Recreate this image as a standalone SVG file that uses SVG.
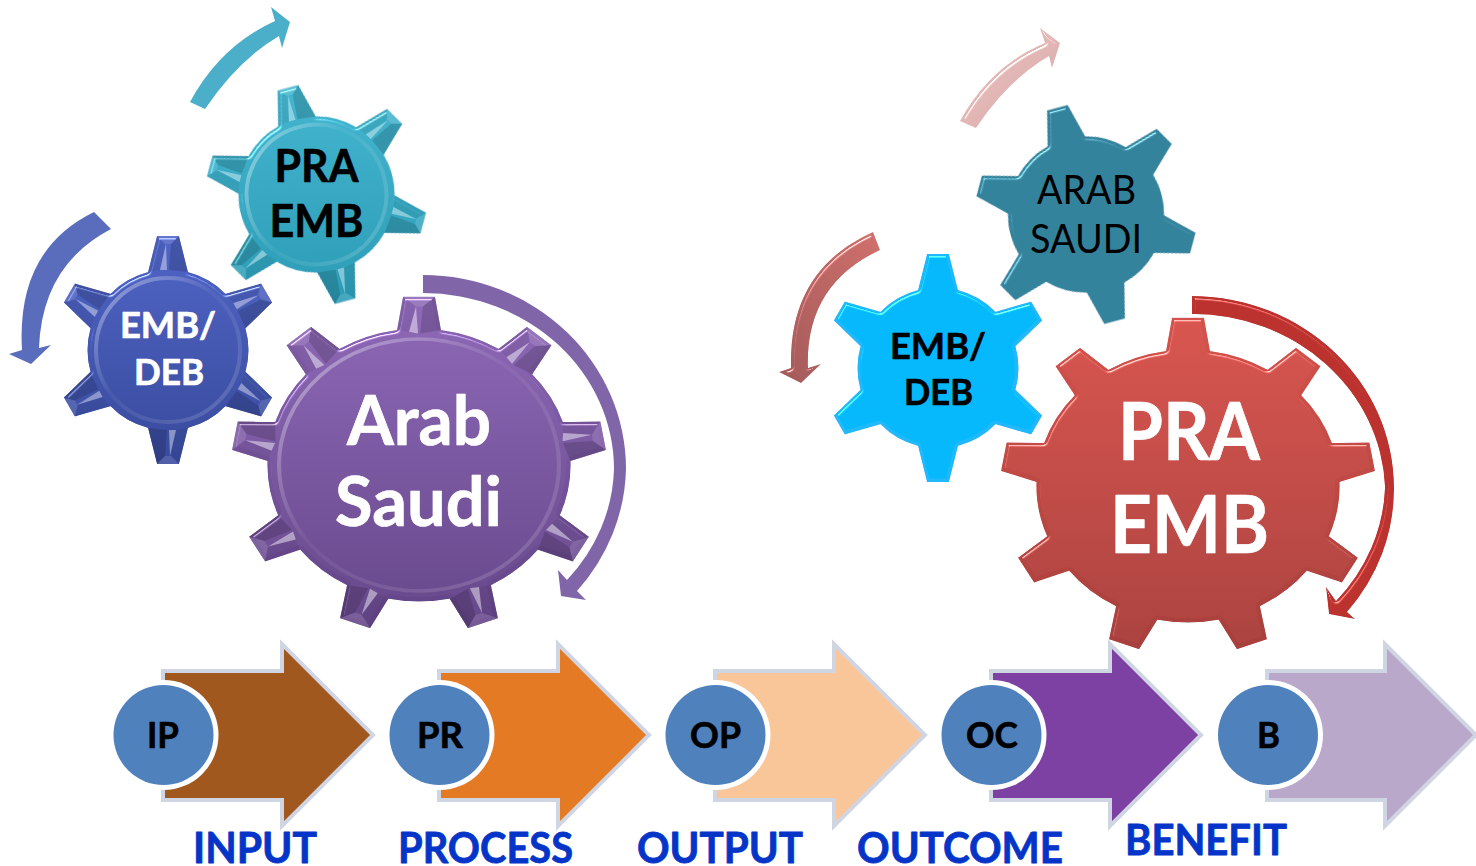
<svg xmlns="http://www.w3.org/2000/svg" width="1476" height="866" viewBox="0 0 1476 866">
<style>
text{font-family:Lato,"Open Sans","Liberation Sans",sans-serif;font-weight:700;text-anchor:start;stroke-linejoin:round}
.w{fill:#fff;stroke:#fff;stroke-width:.7}.k{fill:#000;stroke:#000;stroke-width:.6}.r{font-weight:400;stroke-width:0}
.lab{fill:#0535C8;stroke:#0535C8;stroke-width:.8;font-size:42px}
.cap{fill:#000;stroke:#000;stroke-width:.6;font-size:36px}
.ar{stroke:#D0D5E4;stroke-width:4;stroke-linejoin:miter}
.ring{fill:none;stroke-width:4}
.lt{fill:#fff}.dk{fill:#000}
</style>
<defs>
<path id="g6" d="M-20,-78L-11,-114L11,-114L20,-78A80,80 0 0 1 57.55,-56.32L93.23,-66.53L104.23,-47.47L77.55,-21.68A80,80 0 0 1 77.55,21.68L104.23,47.47L93.23,66.53L57.55,56.32A80,80 0 0 1 20,78L11,114L-11,114L-20,78A80,80 0 0 1 -57.55,56.32L-93.23,66.53L-104.23,47.47L-77.55,21.68A80,80 0 0 1 -77.55,-21.68L-104.23,-47.47L-93.23,-66.53L-57.55,-56.32A80,80 0 0 1 -20,-78Z"/>
<path id="g9" d="M-22,-150L-16,-187L16,-187L22,-150A151.6,151.6 0 0 1 79.6,-129.05L107.98,-153.53L132.5,-132.95L113.3,-100.75A151.6,151.6 0 0 1 143.92,-47.77L181.42,-48.3L186.98,-16.78L151.58,-4.43A151.6,151.6 0 0 1 140.9,55.95L169.94,79.64L153.94,107.36L118.9,94.05A151.6,151.6 0 0 1 71.98,133.48L78.99,170.31L48.91,181.25L30.62,148.52A151.6,151.6 0 0 1 -30.62,148.52L-48.91,181.25L-78.99,170.31L-71.98,133.48A151.6,151.6 0 0 1 -118.9,94.05L-153.94,107.36L-169.94,79.64L-140.9,55.95A151.6,151.6 0 0 1 -151.58,-4.43L-186.98,-16.78L-181.42,-48.3L-143.92,-47.77A151.6,151.6 0 0 1 -113.3,-100.75L-132.5,-132.95L-107.98,-153.53L-79.6,-129.05A151.6,151.6 0 0 1 -22,-150Z"/>
<g id="f6"><polygon class="lt" opacity=".4" points="-8,-80 -2,-106 -1,-80"/><polygon class="dk" opacity=".15" points="1,-80 3,-106 11,-114 20,-78"/><polygon class="lt" opacity=".12" points="-11,-114 11,-114 3,-106 -3,-106"/><polygon class="dk" opacity=".06" points="-20,-78 -11,-114 -3,-106 -8,-80"/></g>
<g id="f9"><polygon class="lt" opacity=".45" points="-10,-148 -3,-176 -1,-146"/><polygon class="dk" opacity=".15" points="1,-146 4,-176 16,-187 22,-150"/><polygon class="lt" opacity=".12" points="-16,-187 16,-187 4,-176 -3,-176"/><polygon class="dk" opacity=".06" points="-22,-150 -16,-187 -3,-176 -10,-148"/></g>
<linearGradient id="gp" gradientUnits="userSpaceOnUse" x1="0" y1="-187" x2="0" y2="187"><stop offset="0" stop-color="#8B66B4"/><stop offset="1" stop-color="#624386"/></linearGradient>
<linearGradient id="gb" gradientUnits="userSpaceOnUse" x1="0" y1="-114" x2="0" y2="114"><stop offset="0" stop-color="#5065C6"/><stop offset="1" stop-color="#384A9C"/></linearGradient>
<linearGradient id="gt" gradientUnits="userSpaceOnUse" x1="0" y1="-114" x2="0" y2="114" gradientTransform="rotate(15)"><stop offset="0" stop-color="#45B6D0"/><stop offset="1" stop-color="#2C9CB6"/></linearGradient>
<linearGradient id="gr" gradientUnits="userSpaceOnUse" x1="0" y1="-187" x2="0" y2="187"><stop offset="0" stop-color="#D5524C"/><stop offset="1" stop-color="#A73F3C"/></linearGradient>
<linearGradient id="rg" x1="0" y1="0" x2="1" y2="1"><stop offset="0" stop-color="#fff" stop-opacity=".45"/><stop offset=".45" stop-color="#fff" stop-opacity=".04"/><stop offset="1" stop-color="#fff" stop-opacity=".18"/></linearGradient>
<linearGradient id="ap" x1="0" y1="0" x2="1" y2="1"><stop offset="0" stop-color="#E9C3C1"/><stop offset="1" stop-color="#D9A9A7"/></linearGradient>
<linearGradient id="al" x1="1" y1="0" x2="0" y2="1"><stop offset="0" stop-color="#D0706C"/><stop offset="1" stop-color="#A35A5A"/></linearGradient>
<filter id="bev" x="-10%" y="-10%" width="120%" height="120%" color-interpolation-filters="sRGB"><feGaussianBlur in="SourceAlpha" stdDeviation="1.6" result="b"/><feSpecularLighting in="b" surfaceScale="3" specularConstant=".55" specularExponent="30" lighting-color="#fff" result="s"><feDistantLight azimuth="250" elevation="52"/></feSpecularLighting><feComposite in="s" in2="SourceAlpha" operator="in" result="s2"/><feComposite in="SourceGraphic" in2="s2" operator="arithmetic" k1="0" k2="1" k3="1.3" k4="-.133"/></filter>
</defs>
<g id="connectors">
<path fill="#4BAFC9" d="M190,102Q220,46 275,21L271,7L290,22L282,48L279,36Q238,60 205,109Z"/>
<path fill="#5A6DBD" d="M94,212Q16,250 22,350L9,354L31,364L51,345L39,348Q42,265 111,229Z"/>
<path fill="#8066A8" d="M423,275A203,194 0 0 1 626,469A203,194 0 0 1 577,591L586,600L561,596L558,570L567,580A191,176 0 0 0 614,469A191,176 0 0 0 423,293Z"/>
<path fill="url(#ap)" filter="url(#bev)" d="M960,121Q990,66 1045,43L1040,28L1060,43L1052,68L1049,56Q1008,80 976,128Z"/>
<path fill="url(#al)" filter="url(#bev)" d="M873,232Q788,270 791,368L779,372L801,383L821,364L808,368Q805,285 880,250Z"/>
<path fill="#BC322E" filter="url(#bev)" d="M1192,296A202,192 0 0 1 1394,487A202,192 0 0 1 1347,612L1355,619L1329,614L1326,587L1336,601A193,180 0 0 0 1385,487A193,180 0 0 0 1192,314Z"/>
</g>
<g id="step-ip"><path class="ar" fill="#A0581F" d="M163,671H282V644L373,735L282,826V800H163Z"/><circle cx="163.5" cy="735" r="55" fill="#fff"/><circle cx="163.5" cy="735" r="50" fill="#4F81BD"/><text class="cap" x="147" y="748" textLength="32" lengthAdjust="spacingAndGlyphs">IP</text></g>
<g id="step-pr"><path class="ar" fill="#E57A25" d="M439,671H558V644L649,735L558,826V800H439Z"/><circle cx="439.5" cy="735" r="55" fill="#fff"/><circle cx="439.5" cy="735" r="50" fill="#4F81BD"/><text class="cap" x="417" y="748" textLength="46" lengthAdjust="spacingAndGlyphs">PR</text></g>
<g id="step-op"><path class="ar" fill="#F9C699" d="M715,671H834V644L925,735L834,826V800H715Z"/><circle cx="715.5" cy="735" r="55" fill="#fff"/><circle cx="715.5" cy="735" r="50" fill="#4F81BD"/><text class="cap" x="690" y="748" textLength="51" lengthAdjust="spacingAndGlyphs">OP</text></g>
<g id="step-oc"><path class="ar" fill="#7C41A3" d="M991,671H1110V644L1201,735L1110,826V800H991Z"/><circle cx="991.5" cy="735" r="55" fill="#fff"/><circle cx="991.5" cy="735" r="50" fill="#4F81BD"/><text class="cap" x="966" y="748" textLength="52" lengthAdjust="spacingAndGlyphs">OC</text></g>
<g id="step-b"><path class="ar" fill="#B9A8CA" d="M1267,671H1385V644L1476,735L1385,826V800H1267Z"/><circle cx="1268" cy="735" r="55" fill="#fff"/><circle cx="1268" cy="735" r="50" fill="#4F81BD"/><text class="cap" x="1257" y="748" textLength="23" lengthAdjust="spacingAndGlyphs">B</text></g>
<g id="gear-emb-deb-left" transform="translate(168,350)"><use href="#g6" fill="url(#gb)" filter="url(#bev)"/><use href="#f6"/><use href="#f6" transform="rotate(60)"/><use href="#f6" transform="rotate(120)"/><use href="#f6" transform="rotate(180)"/><use href="#f6" transform="rotate(240)"/><use href="#f6" transform="rotate(300)"/><circle class="ring" r="72" stroke="url(#rg)"/><text class="w" x="-48" y="-12" font-size="37" textLength="96" lengthAdjust="spacingAndGlyphs">EMB/</text><text class="w" x="-34" y="35" font-size="37" textLength="70" lengthAdjust="spacingAndGlyphs">DEB</text></g>
<g id="gear-pra-emb-left" transform="translate(316.5,194.5)"><g transform="rotate(-15) scale(.97)"><use href="#g6" fill="url(#gt)" filter="url(#bev)"/><use href="#f6"/><use href="#f6" transform="rotate(60)"/><use href="#f6" transform="rotate(120)"/><use href="#f6" transform="rotate(180)"/><use href="#f6" transform="rotate(240)"/><use href="#f6" transform="rotate(300)"/><circle class="ring" r="72" stroke="url(#rg)"/></g><text class="k" x="-42" y="-13" font-size="46" textLength="84" lengthAdjust="spacingAndGlyphs">PRA</text><text class="k" x="-47" y="42" font-size="46" textLength="94" lengthAdjust="spacingAndGlyphs">EMB</text></g>
<g id="gear-arab-saudi-left" transform="translate(419,465)"><g transform="scale(1,.9)"><use href="#g9" fill="url(#gp)" filter="url(#bev)"/><use href="#f9"/><use href="#f9" transform="rotate(40)"/><use href="#f9" transform="rotate(80)"/><use href="#f9" transform="rotate(120)"/><use href="#f9" transform="rotate(160)"/><use href="#f9" transform="rotate(200)"/><use href="#f9" transform="rotate(240)"/><use href="#f9" transform="rotate(280)"/><use href="#f9" transform="rotate(320)"/><circle class="ring" r="140" stroke="url(#rg)"/></g><text class="w" x="-72" y="-20" font-size="68" textLength="144" lengthAdjust="spacingAndGlyphs">Arab</text><text class="w" x="-84" y="61" font-size="68" textLength="167" lengthAdjust="spacingAndGlyphs">Saudi</text></g>
<g id="gear-emb-deb-right" transform="translate(938,368)"><use href="#g6" fill="#06B9FC" filter="url(#bev)"/><text class="k" x="-48" y="-9" font-size="37" textLength="96" lengthAdjust="spacingAndGlyphs">EMB/</text><text class="k" x="-34" y="37" font-size="37" textLength="69" lengthAdjust="spacingAndGlyphs">DEB</text></g>
<g id="gear-arab-saudi-right" transform="translate(1086,214.5)"><g transform="rotate(-15) scale(.97)"><use href="#g6" fill="#33839D" filter="url(#bev)"/></g><text class="k r" x="-49" y="-11" font-size="40" textLength="99" lengthAdjust="spacingAndGlyphs">ARAB</text><text class="k r" x="-56" y="38" font-size="40" textLength="112" lengthAdjust="spacingAndGlyphs">SAUDI</text></g>
<g id="gear-pra-emb-right" transform="translate(1188,486)"><g transform="scale(1,.9)"><use href="#g9" fill="url(#gr)" filter="url(#bev)"/></g><text class="w" x="-70" y="-26" font-size="80" textLength="142" lengthAdjust="spacingAndGlyphs">PRA</text><text class="w" x="-78" y="67" font-size="80" textLength="159" lengthAdjust="spacingAndGlyphs">EMB</text></g>
<g id="labels">
<text class="lab" x="193" y="863" textLength="124" lengthAdjust="spacingAndGlyphs">INPUT</text>
<text class="lab" x="398" y="863" textLength="175" lengthAdjust="spacingAndGlyphs">PROCESS</text>
<text class="lab" x="637" y="863" textLength="166" lengthAdjust="spacingAndGlyphs">OUTPUT</text>
<text class="lab" x="857" y="863" textLength="206" lengthAdjust="spacingAndGlyphs">OUTCOME</text>
<text class="lab" x="1125" y="855" textLength="162" lengthAdjust="spacingAndGlyphs">BENEFIT</text>
</g>
</svg>
